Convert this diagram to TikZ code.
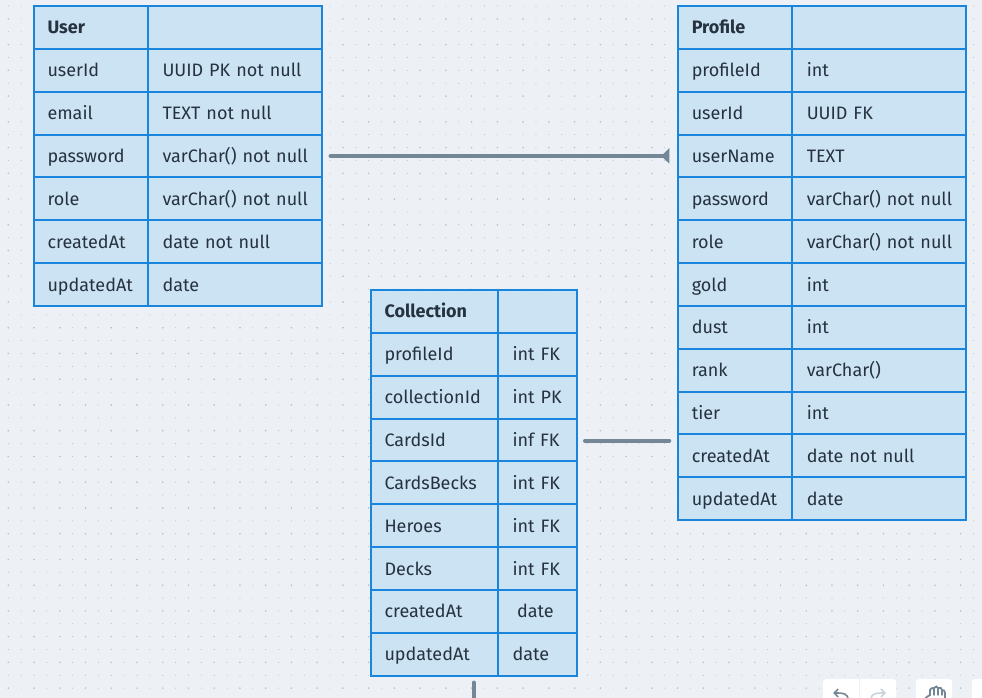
\documentclass[tikz,border=0pt]{standalone}
\usepackage{fontspec}
\setmainfont{Fira Sans}
\usetikzlibrary{arrows.meta}

\definecolor{canvasgrey}{HTML}{EDF1F6}
\definecolor{griddot}{HTML}{B4C1CF}
\definecolor{cellblue}{HTML}{CCE3F4}
\definecolor{lineblue}{HTML}{1A85DC}
\definecolor{inkdark}{HTML}{26323F}
\definecolor{linkgrey}{HTML}{748797}

\tikzstyle{cell} = [draw=lineblue, fill=cellblue, rectangle, line width=2pt,
    minimum height=42.85pt, inner xsep=13.5pt, inner ysep=0pt, outer sep=0pt,
    text height=15pt, text depth=2pt, align=left, text=inkdark,
    font=\fontsize{18}{20}\selectfont, node distance=42.85pt]
\tikzstyle{userkey} = [cell, minimum width=113.5pt, text width=86.5pt]
\tikzstyle{userval} = [cell, minimum width=174pt, inner xsep=12.5pt, text width=149pt,
    execute at begin node=\hspace*{2.5pt}, node distance=143.75pt]
\tikzstyle{collkey} = [cell, minimum width=127pt, text width=100pt]
\tikzstyle{collval} = [cell, minimum width=79pt, text width=50pt, node distance=103pt]
\tikzstyle{head} = [font=\fontsize{18}{20}\selectfont\bfseries]
\tikzstyle{link} = [draw=linkgrey, line width=4pt, line cap=round]
\tikzstyle{toolbtn} = [fill=white, rounded corners=3pt]

\begin{document}
\begin{tikzpicture}[x=1pt, y=-1pt]
    \useasboundingbox (0,0) rectangle (982,698);
    \fill [canvasgrey] (0,0) rectangle (982,698);

    % dotted canvas
    \foreach \i in {0,...,53}
        \foreach \j in {0,...,75}
            \fill [griddot] (8.3+12.87*\j,6+12.87*\i) circle (0.55pt);
    \foreach \i in {1,3,...,53}
        \foreach \j in {0,2,...,74}
            \fill [griddot] (8.3+12.87*\j,6+12.87*\i) circle (0.85pt);

    % User table
    \node [userkey, head] at (90.75,27.4) (userHead) {User};
    \node [userval, right of=userHead] (userHeadVal) {};
    \node [userkey, below of=userHead] (userId) {userId};
    \node [userval, right of=userId] (userIdVal) {UUID PK not null};
    \node [userkey, below of=userId] (userEmail) {email};
    \node [userval, right of=userEmail] (userEmailVal) {TEXT not null};
    \node [userkey, below of=userEmail] (userPassword) {password};
    \node [userval, right of=userPassword] (userPasswordVal) {varChar() not null};
    \node [userkey, below of=userPassword] (userRole) {role};
    \node [userval, right of=userRole] (userRoleVal) {varChar() not null};
    \node [userkey, below of=userRole] (userCreated) {createdAt};
    \node [userval, right of=userCreated] (userCreatedVal) {date not null};
    \node [userkey, below of=userCreated] (userUpdated) {updatedAt};
    \node [userval, right of=userUpdated] (userUpdatedVal) {date};

    % Profile table
    \node [userkey, head] at (735,27.4) (profHead) {Profile};
    \node [userval, right of=profHead] (profHeadVal) {};
    \node [userkey, below of=profHead] (profId) {profileId};
    \node [userval, right of=profId] (profIdVal) {int};
    \node [userkey, below of=profId] (profUser) {userId};
    \node [userval, right of=profUser] (profUserVal) {UUID FK};
    \node [userkey, below of=profUser] (profName) {userName};
    \node [userval, right of=profName] (profNameVal) {TEXT};
    \node [userkey, below of=profName] (profPassword) {password};
    \node [userval, right of=profPassword] (profPasswordVal) {varChar() not null};
    \node [userkey, below of=profPassword] (profRole) {role};
    \node [userval, right of=profRole] (profRoleVal) {varChar() not null};
    \node [userkey, below of=profRole] (profGold) {gold};
    \node [userval, right of=profGold] (profGoldVal) {int};
    \node [userkey, below of=profGold] (profDust) {dust};
    \node [userval, right of=profDust] (profDustVal) {int};
    \node [userkey, below of=profDust] (profRank) {rank};
    \node [userval, right of=profRank] (profRankVal) {varChar()};
    \node [userkey, below of=profRank] (profTier) {tier};
    \node [userval, right of=profTier] (profTierVal) {int};
    \node [userkey, below of=profTier] (profCreated) {createdAt};
    \node [userval, right of=profCreated] (profCreatedVal) {date not null};
    \node [userkey, below of=profCreated] (profUpdated) {updatedAt};
    \node [userval, right of=profUpdated] (profUpdatedVal) {date};

    % Collection table
    \node [collkey, head] at (434.5,311.4) (collHead) {Collection};
    \node [collval, right of=collHead] (collHeadVal) {};
    \node [collkey, below of=collHead] (collProfile) {profileId};
    \node [collval, right of=collProfile] (collProfileVal) {int FK};
    \node [collkey, below of=collProfile] (collId) {collectionId};
    \node [collval, right of=collId] (collIdVal) {int PK};
    \node [collkey, below of=collId] (collCards) {CardsId};
    \node [collval, right of=collCards] (collCardsVal) {inf FK};
    \node [collkey, below of=collCards] (collBecks) {CardsBecks};
    \node [collval, right of=collBecks] (collBecksVal) {int FK};
    \node [collkey, below of=collBecks] (collHeroes) {Heroes};
    \node [collval, right of=collHeroes] (collHeroesVal) {int FK};
    \node [collkey, below of=collHeroes] (collDecks) {Decks};
    \node [collval, right of=collDecks] (collDecksVal) {int FK};
    \node [collkey, below of=collDecks] (collCreated) {createdAt};
    \node [collval, right of=collCreated] (collCreatedVal) {\hspace*{4.5pt}date};
    \node [collkey, below of=collCreated] (collUpdated) {updatedAt};
    \node [collval, right of=collUpdated] (collUpdatedVal) {date};

    % connectors
    \coordinate (collExit) at (473.7,700);
    \coordinate (collLink) at ([yshift=-0.9pt]collCardsVal.east);
    \draw [link, -{Triangle[reversed,length=8pt,width=15pt]}, shorten <=9pt, shorten >=9pt]
        (userPasswordVal.east) -- (profName.west);
    \draw [link, shorten <=8pt, shorten >=9pt] (collLink) -- (collLink -| profTier.west);
    \draw [link, shorten <=7pt] (collExit |- collUpdated.south) -- (collExit);

    % toolbar, cut by the page edge
    \fill [toolbtn] (823,679) rectangle (896,712);
    \fill [toolbtn] (916,679) rectangle (952,712);
    \fill [toolbtn] (972,679) rectangle (1000,712);
    \draw [canvasgrey, line width=0.7pt] (859.5,679) -- (859.5,712);
    \draw [linkgrey, line width=1.6pt, -{Straight Barb[length=4pt,width=8pt]}] (848,700) .. controls (848,693) and (843,693) .. (833,693);
    \draw [griddot!70, line width=1.6pt, -{Straight Barb[length=4pt,width=8pt]}] (871,700) .. controls (871,693) and (876,693) .. (886,693);
    \draw [linkgrey, line width=1.8pt, line cap=round] (925,699) .. controls (927,696) and (929,696) .. (930,695) -- (930,690) .. controls (930,688) and (933,688) .. (934,688) .. controls (935,686) and (938,686) .. (938,688) .. controls (940,687) and (942,688) .. (942,690) .. controls (944,690) and (945,691) .. (945,693) -- (945,699);
    \draw [linkgrey, line width=1.4pt, line cap=round] (934,688) -- (934,695) (938,688) -- (938,695) (942,690) -- (942,695);
\end{tikzpicture}
\end{document}
